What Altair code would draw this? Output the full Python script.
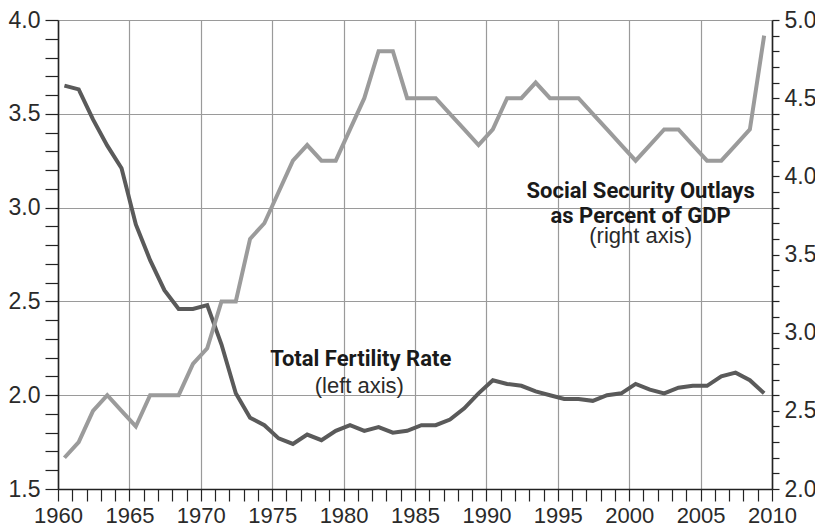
import altair as alt
import pandas as pd

years = list(range(1960, 2010))
fertility = [3.65, 3.63, 3.47, 3.33, 3.21, 2.91, 2.72, 2.56, 2.46, 2.46,
             2.48, 2.27, 2.01, 1.88, 1.84, 1.77, 1.74, 1.79, 1.76, 1.81,
             1.84, 1.81, 1.83, 1.80, 1.81, 1.84, 1.84, 1.87, 1.93, 2.01,
             2.08, 2.06, 2.05, 2.02, 2.00, 1.98, 1.98, 1.97, 2.00, 2.01,
             2.06, 2.03, 2.01, 2.04, 2.05, 2.05, 2.10, 2.12, 2.08, 2.01]
ss_outlays = [2.2, 2.3, 2.5, 2.6, 2.5, 2.4, 2.6, 2.6, 2.6, 2.8,
              2.9, 3.2, 3.2, 3.6, 3.7, 3.9, 4.1, 4.2, 4.1, 4.1,
              4.3, 4.5, 4.8, 4.8, 4.5, 4.5, 4.5, 4.4, 4.3, 4.2,
              4.3, 4.5, 4.5, 4.6, 4.5, 4.5, 4.5, 4.4, 4.3, 4.2,
              4.1, 4.2, 4.3, 4.3, 4.2, 4.1, 4.1, 4.2, 4.3, 4.9]

x_ticks = list(range(1960, 2011))
left_ticks = [round(1.5 + 0.1 * i, 1) for i in range(26)]
right_ticks = [round(2.0 + 0.1 * i, 1) for i in range(31)]

ann_text = ["Social Security Outlays", "as Percent of GDP", "(right axis)",
            "Total Fertility Rate", "(left axis)"]
ann_x = [2000.8, 2000.8, 2000.8, 1981.2, 1981.1]
ann_y = [3.05, 2.918, 2.81, 2.156, 2.012]
ann_bold = [True, True, False, True, False]

df = pd.DataFrame({"year": years, "fert": fertility, "ss": ss_outlays})
ann = pd.DataFrame({"text": ann_text, "x": ann_x, "y": ann_y, "bold": ann_bold})

LABEL_FONT = "Liberation Sans"
TXT = "#2a2a2a"
AX = "#222222"

half_test = "abs(datum.value * 2 - round(datum.value * 2)) < 0.01"

x_scale = alt.Scale(domain=[1960, 2010], nice=False, zero=False)
yl_scale = alt.Scale(domain=[1.5, 4.0], nice=False, zero=False)
yr_scale = alt.Scale(domain=[2.0, 5.0], nice=False, zero=False)

x_axis = alt.Axis(
    values=x_ticks, title=None,
    labelExpr="datum.value % 5 == 0 ? toString(datum.value) : ''",
    labelFont=LABEL_FONT, labelFontSize=22, labelColor=TXT, labelPadding=4,
    labelFlush=False, labelOverlap=False,
    tickSize=12, tickColor=AX, tickWidth=1.2,
    domainColor=AX, domainWidth=1.6,
    grid=True, gridColor="#9a9a9a", gridWidth=1.2,
    gridOpacity={"condition": {"test": "datum.value % 5 == 0", "value": 1}, "value": 0},
)

yl_axis = alt.Axis(
    values=left_ticks, title=None, orient="left",
    labelExpr=half_test + " ? format(datum.value, '.1f') : ''",
    labelFont=LABEL_FONT, labelFontSize=23, labelColor=TXT, labelPadding=5,
    labelFlush=False, labelOverlap=False,
    tickSize=13, tickColor=AX, tickWidth=1.2,
    domainColor=AX, domainWidth=1.6,
    grid=True, gridColor="#9a9a9a", gridWidth=1.2,
    gridOpacity={"condition": {"test": half_test, "value": 1}, "value": 0},
)

yr_axis = alt.Axis(
    values=right_ticks, title=None, orient="right",
    labelExpr=half_test + " ? format(datum.value, '.1f') : ''",
    labelFont=LABEL_FONT, labelFontSize=23, labelColor=TXT, labelPadding=5,
    labelFlush=False, labelOverlap=False,
    tickSize=7, tickColor=AX, tickWidth=1.2,
    domainColor=AX, domainWidth=1.6,
    grid=False,
)

base = alt.Chart(df).transform_calculate(xpos="datum.year + 0.45")

fert_line = base.mark_line(color="#5a5a5a", strokeWidth=4, strokeJoin="miter").encode(
    x=alt.X("xpos:Q", scale=x_scale, axis=x_axis),
    y=alt.Y("fert:Q", scale=yl_scale, axis=yl_axis),
)

ann_base = alt.Chart(ann)
bold_text = ann_base.transform_filter("datum.bold").mark_text(
    font="Roboto", fontWeight="bold", fontSize=22, color="#1a1a1a",
    align="center", baseline="alphabetic",
).encode(
    x=alt.X("x:Q", scale=x_scale, axis=x_axis),
    y=alt.Y("y:Q", scale=yl_scale, axis=yl_axis),
    text="text:N",
)
reg_text = ann_base.transform_filter("!datum.bold").mark_text(
    font=LABEL_FONT, fontSize=22, color=TXT,
    align="center", baseline="alphabetic",
).encode(
    x=alt.X("x:Q", scale=x_scale, axis=x_axis),
    y=alt.Y("y:Q", scale=yl_scale, axis=yl_axis),
    text="text:N",
)

left_layer = alt.layer(fert_line, bold_text, reg_text)

ss_line = base.mark_line(color="#9b9b9b", strokeWidth=4, strokeJoin="miter").encode(
    x=alt.X("xpos:Q", scale=x_scale, axis=x_axis),
    y=alt.Y("ss:Q", scale=yr_scale, axis=yr_axis),
)

chart = alt.layer(left_layer, ss_line).resolve_scale(y="independent").properties(
    width=714, height=469,
    autosize=alt.AutoSizeParams(type="none"),
    padding={"left": 50, "top": 12, "right": 43, "bottom": 37},
    background="white",
).configure_view(strokeWidth=0)

chart.save("out.html", embed_options={"renderer": "svg", "actions": False})
